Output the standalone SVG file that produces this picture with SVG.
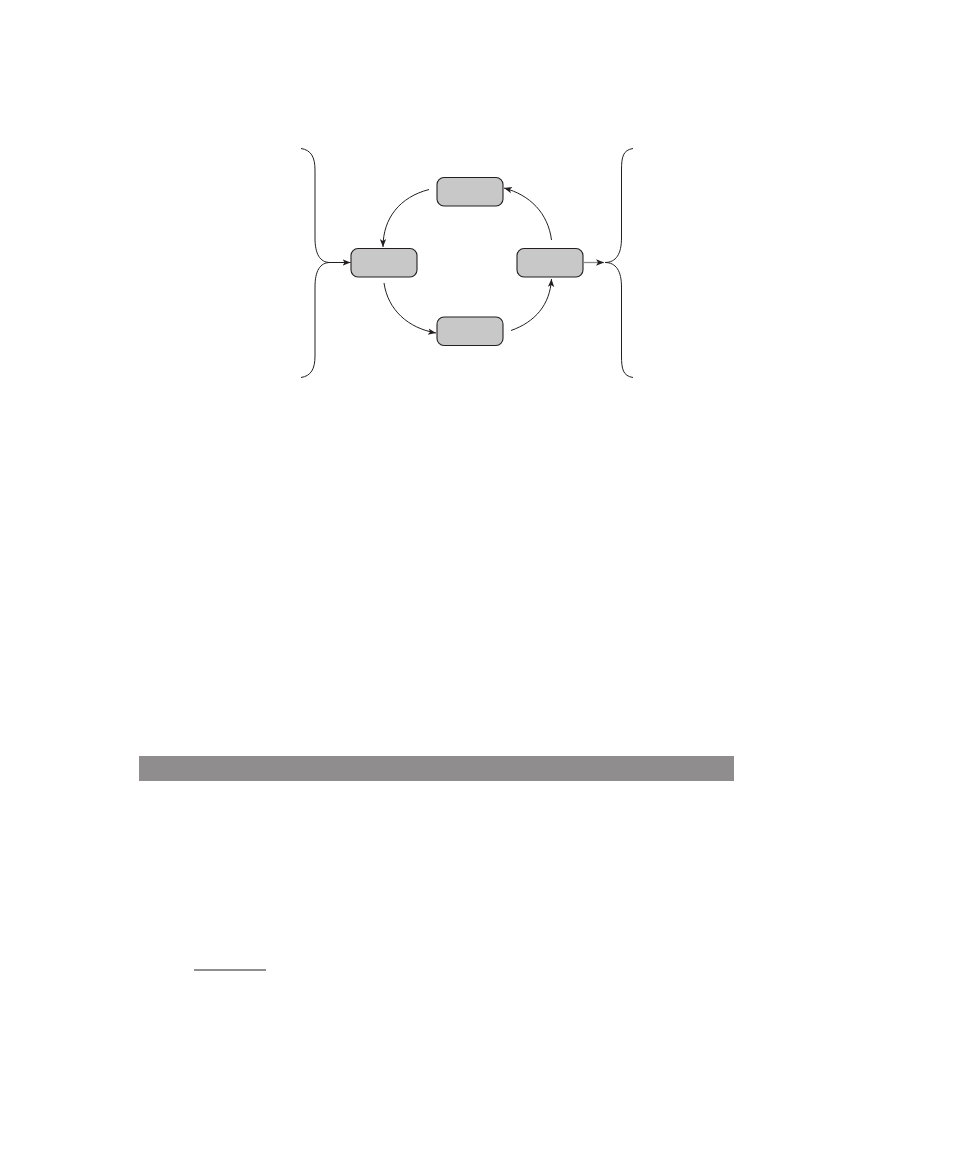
<svg xmlns="http://www.w3.org/2000/svg" width="959" height="1159" viewBox="0 0 959 1159">
<style>
.node{fill:#c8c8c8;stroke:#231f20;stroke-width:1.1}
.edge{fill:none;stroke:#231f20;stroke-width:1}
.brace{fill:none;stroke:#231f20;stroke-width:1}
</style>
<defs>
<marker id="ah" viewBox="0 0 10 10" refX="10" refY="5" markerWidth="8" markerHeight="8" markerUnits="userSpaceOnUse" orient="auto">
<path d="M0,1 L10,5 L0,9 L2.5,5 Z" fill="#231f20"/>
</marker>
</defs>
<rect width="959" height="1159" fill="#ffffff"/>
<g id="node-top"><rect class="node" x="437" y="177.5" width="66" height="28.5" rx="7"/></g>
<g id="node-left"><rect class="node" x="351" y="248.5" width="66" height="28.5" rx="7"/></g>
<g id="node-right"><rect class="node" x="517" y="248.5" width="66" height="28.5" rx="7"/></g>
<g id="node-bottom"><rect class="node" x="437" y="317" width="66" height="28.5" rx="7"/></g>
<g id="brace-left"><path class="brace" d="M301,148.5 C311,150 315,157 315,170 L315,238 C315,254 320,262.5 330,262.5 C320,262.5 315,271 315,287 L315,356 C315,369 311,376 301,377.5"/></g>
<g id="brace-right"><path class="brace" d="M633,148.5 C623,150 621.5,157 621.5,170 L621.5,238 C621.5,254 616,262.5 605,262.5 C616,262.5 621.5,271 621.5,287 L621.5,356 C621.5,369 623,376 633,377.5"/></g>
<g id="connectors">
<path class="edge" d="M429,189.5 C400,197 383,218 383,247" marker-end="url(#ah)"/>
<path class="edge" d="M384,283 C388,310 408,328 436,333" marker-end="url(#ah)"/>
<path class="edge" d="M511,330.5 C535,322 550,305 551.5,279" marker-end="url(#ah)"/>
<path class="edge" d="M551.5,240 C548,213 530,195 504,188" marker-end="url(#ah)"/>
<path class="edge" d="M330,262.5 L350.5,262.5" stroke="#555" marker-end="url(#ah)"/>
<path class="edge" d="M583,262.5 L604,262.5" style="stroke:#8a8a8a;stroke-width:1.3" marker-end="url(#ah)"/>
</g>
<rect x="139" y="756" width="595" height="25" fill="#8f8d8e"/>
<line x1="194" y1="970" x2="266" y2="970" stroke="#231f20" stroke-width="1"/>
</svg>
